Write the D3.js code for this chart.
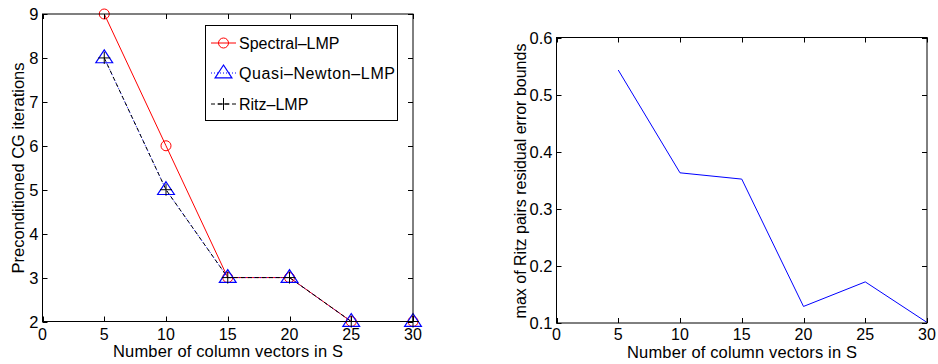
<!DOCTYPE html>
<html>
<head>
<meta charset="utf-8">
<script src="https://cdn.jsdelivr.net/npm/d3@7"></script>
<style>
  html, body { margin: 0; padding: 0; background: #fff; }
  svg { display: block; font-family: "Liberation Sans", Arial, sans-serif; }
</style>
</head>
<body>
<svg id="chart" width="938" height="364"></svg>
<script>
// Number of column vectors in S
const columns = [5, 10, 15, 20, 25, 30];
// Preconditioned CG iterations per preconditioner
const spectralLMP = [9, 6, 3, 3, 2, 2];
const quasiNewtonLMP = [8, 5, 3, 3, 2, 2];
const ritzLMP = [8, 5, 3, 3, 2, 2];
// Max of Ritz pairs residual error bounds
const ritzErrorBound = [0.543, 0.363, 0.352, 0.129, 0.172, 0.101];

const xTicks = [0, 5, 10, 15, 20, 25, 30];
const yTicksLeft = [2, 3, 4, 5, 6, 7, 8, 9];
const yTicksRight = [0.1, 0.2, 0.3, 0.4, 0.5, 0.6];

const FS = 16;
const svg = d3.select("#chart");

function drawFrame(g, x, y, xt, yt, yFmt) {
  const [x0, x1] = x.range();
  const [y0, y1] = y.range(); // y0 bottom, y1 top
  const tick = 5;
  g.append("rect")
    .attr("x", x0).attr("y", y1)
    .attr("width", x1 - x0).attr("height", y0 - y1)
    .attr("fill", "none").attr("stroke", "#000").attr("stroke-width", 1);
  // ticks point inward on all four sides
  xt.forEach(v => {
    const px = Math.round(x(v)) + 0.5;
    g.append("line").attr("x1", px).attr("x2", px).attr("y1", y0).attr("y2", y0 - tick).attr("stroke", "#000");
    g.append("line").attr("x1", px).attr("x2", px).attr("y1", y1).attr("y2", y1 + tick).attr("stroke", "#000");
    g.append("text").attr("x", x(v)).attr("y", 340)
      .attr("text-anchor", "middle").attr("font-size", FS).text(v);
  });
  yt.forEach(v => {
    const py = Math.round(y(v)) + 0.5;
    g.append("line").attr("x1", x0).attr("x2", x0 + tick).attr("y1", py).attr("y2", py).attr("stroke", "#000");
    g.append("line").attr("x1", x1).attr("x2", x1 - tick).attr("y1", py).attr("y2", py).attr("stroke", "#000");
    g.append("text").attr("x", x0 - 4).attr("y", y(v) + 6)
      .attr("text-anchor", "end").attr("font-size", 16.5).text(yFmt(v));
  });
}

// ---- Left panel: CG iterations ----
const xL = d3.scaleLinear().domain([0, 30]).range([42.5, 413]);
const yL = d3.scaleLinear().domain([2, 9]).range([321.5, 14]);
const gL = svg.append("g");

const lineL = d3.line().x((d, i) => xL(columns[i])).y(d => yL(d));

gL.append("path").datum(spectralLMP).attr("d", lineL)
  .attr("fill", "none").attr("stroke", "#ff0000").attr("stroke-width", 1);
gL.append("path").datum(quasiNewtonLMP).attr("d", lineL)
  .attr("fill", "none").attr("stroke", "#0000ff").attr("stroke-width", 1)
  .attr("stroke-dasharray", "1,2");
gL.append("path").datum(ritzLMP).attr("d", lineL)
  .attr("fill", "none").attr("stroke", "#000").attr("stroke-width", 1)
  .attr("stroke-dasharray", "4,3");

const triPath = (cx, cy, r) => `M${cx},${cy - r}L${cx + r * 1.05},${cy + r * 0.6}L${cx - r * 1.05},${cy + r * 0.6}Z`;

spectralLMP.forEach((v, i) => {
  gL.append("circle").attr("cx", xL(columns[i])).attr("cy", yL(v)).attr("r", 5)
    .attr("fill", "none").attr("stroke", "#ff0000").attr("stroke-width", 1);
});
quasiNewtonLMP.forEach((v, i) => {
  gL.append("path").attr("d", triPath(xL(columns[i]), yL(v), 8))
    .attr("fill", "none").attr("stroke", "#0000ff").attr("stroke-width", 1.2);
});
ritzLMP.forEach((v, i) => {
  const cx = xL(columns[i]), cy = yL(v);
  gL.append("path").attr("d", `M${cx - 6},${cy}H${cx + 6}M${cx},${cy - 6}V${cy + 6}`)
    .attr("stroke", "#000").attr("stroke-width", 1);
});

drawFrame(gL, xL, yL, xTicks, yTicksLeft, d => d);

// Legend
const leg = gL.append("g");
leg.append("rect").attr("x", 205.5).attr("y", 25.5).attr("width", 192).attr("height", 95)
  .attr("fill", "#fff").attr("stroke", "#000").attr("stroke-width", 1);
const legItems = [
  { name: "Spectral\u2013LMP", y: 43, color: "#ff0000", dash: null, mark: "circle" },
  { name: "Quasi\u2013Newton\u2013LMP", y: 73, color: "#0000ff", dash: "1,2", mark: "tri" },
  { name: "Ritz\u2013LMP", y: 104, color: "#000", dash: "4,3", mark: "plus" }
];
legItems.forEach(it => {
  const lx0 = 211, lx1 = 236, cx = 223.5;
  leg.append("line").attr("x1", lx0).attr("x2", lx1).attr("y1", it.y).attr("y2", it.y)
    .attr("stroke", it.color).attr("stroke-dasharray", it.dash);
  if (it.mark === "circle") {
    leg.append("circle").attr("cx", cx).attr("cy", it.y).attr("r", 5)
      .attr("fill", "none").attr("stroke", it.color);
  } else if (it.mark === "tri") {
    leg.append("path").attr("d", triPath(cx, it.y, 8)).attr("fill", "none")
      .attr("stroke", it.color).attr("stroke-width", 1.2);
  } else {
    leg.append("path").attr("d", `M${cx - 6},${it.y}H${cx + 6}M${cx},${it.y - 6}V${it.y + 6}`)
      .attr("stroke", it.color);
  }
  leg.append("text").attr("x", 239).attr("y", it.y + 6).attr("font-size", 16)
    .attr("textLength", it.mark === "tri" ? 156 : null).text(it.name);
});

svg.append("text").attr("transform", "translate(24,168) rotate(-90)")
  .attr("text-anchor", "middle").attr("font-size", 16.5).text("Preconditioned CG iterations");
svg.append("text").attr("x", 228).attr("y", 357)
  .attr("text-anchor", "middle").attr("font-size", 16.5).attr("textLength", 230)
  .text("Number of column vectors in S");

// ---- Right panel: Ritz residual error bounds ----
const xR = d3.scaleLinear().domain([0, 30]).range([556.5, 927]);
const yR = d3.scaleLinear().domain([0.1, 0.6]).range([323, 37.5]);
const gR = svg.append("g");
gR.append("path").datum(ritzErrorBound)
  .attr("d", d3.line().x((d, i) => xR(columns[i])).y(d => yR(d)))
  .attr("fill", "none").attr("stroke", "#0000ff").attr("stroke-width", 1);
drawFrame(gR, xR, yR, xTicks, yTicksRight, d3.format(".1f"));

svg.append("text").attr("transform", "translate(526,181) rotate(-90)")
  .attr("text-anchor", "middle").attr("font-size", 16).text("max of Ritz pairs residual error bounds");
svg.append("text").attr("x", 742).attr("y", 358)
  .attr("text-anchor", "middle").attr("font-size", 16.5).attr("textLength", 230)
  .text("Number of column vectors in S");
</script>
</body>
</html>
